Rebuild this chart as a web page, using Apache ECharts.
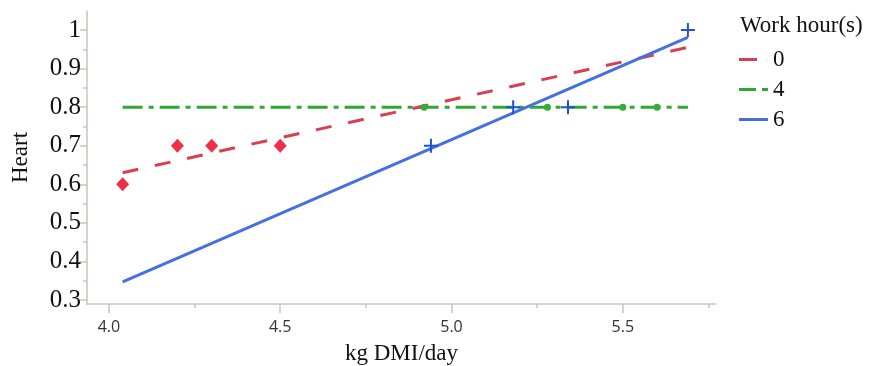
<!DOCTYPE html>
<html>
<head>
<meta charset="utf-8">
<script src="https://cdn.jsdelivr.net/npm/echarts@6/dist/echarts.min.js"></script>
<style>
  html, body { margin: 0; padding: 0; background: #fff; }
  #chart { width: 874px; height: 366px; }
</style>
</head>
<body>
<div id="chart"></div>
<script>
// work hours (legend groups)
const hours = ["0", "4", "6"];

// observed points, per work-hour group
const dmi0 = [4.04, 4.2, 4.3, 4.5];
const heart0 = [0.6, 0.7, 0.7, 0.7];
const dmi4 = [4.92, 5.28, 5.5, 5.6];
const heart4 = [0.8, 0.8, 0.8, 0.8];
const dmi6 = [4.94, 5.18, 5.34, 5.69];
const heart6 = [0.7, 0.8, 0.8, 1.0];

// fitted line end points
const fitX = [4.04, 5.69];
const fit0 = [0.63, 0.955];
const fit4 = [0.8, 0.8];
const fit6 = [0.347, 0.981];

// axis ticks
const xTicks = [4.0, 4.5, 5.0, 5.5];
const xMinor = [4.25, 4.75, 5.25, 5.75];
const yTicks = [0.3, 0.4, 0.5, 0.6, 0.7, 0.8, 0.9, 1.0];
const yMinor = [0.35, 0.45, 0.55, 0.65, 0.75, 0.85, 0.95, 1.05];

const colors = {
  line0: "#d83f51", point0: "#ee2f47",
  line4: "#2fa831", point4: "#33ad35",
  line6: "#4570df", point6: "#1f52d6",
};
const axisColor = "#c9c3bc";
const serif = "Liberation Serif";

const zip = (xs, ys) => xs.map((x, i) => [x, ys[i]]);

const chartDom = document.getElementById("chart");
const myChart = echarts.init(chartDom);

const xBase = { type: "value", min: 3.936, max: 5.772, gridIndex: 0, position: "bottom" };
const yBase = { type: "value", min: 0.2896, max: 1.0493, gridIndex: 0, position: "left" };

const option = {
  animation: false,
  grid: { left: 87, right: 158, top: 11, bottom: 62, outerBoundsMode: "none" },
  title: {
    text: "Work hour(s)",
    left: 735,
    top: 9,
    textStyle: { fontFamily: serif, fontSize: 23, fontWeight: "normal", color: "#111" },
  },
  legend: {
    orient: "vertical",
    left: 734,
    top: 43,
    itemWidth: 29,
    itemHeight: 3,
    itemGap: 7,
    itemStyle: { borderWidth: 0 },
    textStyle: { fontFamily: serif, fontSize: 23, color: "#111", lineHeight: 23 },
    data: [
      { name: hours[0], icon: "path://M0,0H18V3H0ZM28.9,0H29V3H28.9Z", itemStyle: { color: colors.line0 } },
      { name: hours[1], icon: "path://M0,0H17V3H0ZM23,0H29V3H23Z", itemStyle: { color: colors.line4 } },
      { name: hours[2], icon: "path://M0,0H29V3H0Z", itemStyle: { color: colors.line6 } },
    ],
  },
  xAxis: [
    Object.assign({}, xBase, {
      name: "kg DMI/day",
      nameLocation: "middle",
      nameGap: 38,
      nameTextStyle: { fontFamily: serif, fontSize: 23, color: "#111" },
      axisLine: { lineStyle: { color: axisColor, width: 1.5 } },
      axisTick: { show: true, length: 9, customValues: xTicks, lineStyle: { color: axisColor, width: 1.5 } },
      axisLabel: {
        customValues: xTicks,
        margin: 15,
        fontFamily: "Open Sans",
        fontSize: 16,
        color: "#333",
        formatter: (v) => v.toFixed(1),
      },
      splitLine: { show: false },
    }),
    Object.assign({}, xBase, {
      axisLine: { show: false },
      axisTick: { show: true, length: 4, customValues: xMinor, lineStyle: { color: axisColor, width: 1.5 } },
      axisLabel: { show: false },
      splitLine: { show: false },
    }),
  ],
  yAxis: [
    Object.assign({}, yBase, {
      name: "Heart",
      nameLocation: "middle",
      nameGap: 55,
      nameTextStyle: { fontFamily: serif, fontSize: 23, color: "#111" },
      axisLine: { show: true, lineStyle: { color: axisColor, width: 1.5 } },
      axisTick: { show: true, length: 7, customValues: yTicks, lineStyle: { color: axisColor, width: 1.5 } },
      axisLabel: {
        customValues: yTicks,
        margin: 6,
        fontFamily: serif,
        fontSize: 25,
        color: "#111",
      },
      splitLine: { show: false },
    }),
    Object.assign({}, yBase, {
      axisLine: { show: false },
      axisTick: { show: true, length: 4, customValues: yMinor, lineStyle: { color: axisColor, width: 1.5 } },
      axisLabel: { show: false },
      splitLine: { show: false },
    }),
  ],
  series: [
    {
      name: hours[1], type: "line", data: zip(fitX, fit4), symbol: "none", z: 2,
      color: colors.line4,
      lineStyle: { color: colors.line4, width: 3, type: [20, 6, 5, 6] },
    },
    {
      name: hours[0], type: "line", data: zip(fitX, fit0), symbol: "none", z: 3,
      color: colors.line0,
      lineStyle: { color: colors.line0, width: 3, type: [16, 17] },
    },
    {
      name: hours[2], type: "line", data: zip(fitX, fit6), symbol: "none", z: 4,
      color: colors.line6,
      lineStyle: { color: colors.line6, width: 3 },
    },
    {
      name: hours[0], type: "scatter", data: zip(dmi0, heart0), z: 5,
      symbol: "diamond", symbolSize: [13, 14],
      itemStyle: { color: colors.point0, opacity: 1 },
    },
    {
      name: hours[1], type: "scatter", data: zip(dmi4, heart4), z: 5,
      symbol: "circle", symbolSize: 7,
      itemStyle: { color: colors.point4, opacity: 1 },
    },
    {
      name: hours[2], type: "scatter", data: zip(dmi6, heart6), z: 5,
      symbol: "path://M6,0H8V14H6ZM0,6H14V8H0Z", symbolSize: 14,
      itemStyle: { color: colors.point6, opacity: 1 },
    },
  ],
};

myChart.setOption(option);
</script>
</body>
</html>
